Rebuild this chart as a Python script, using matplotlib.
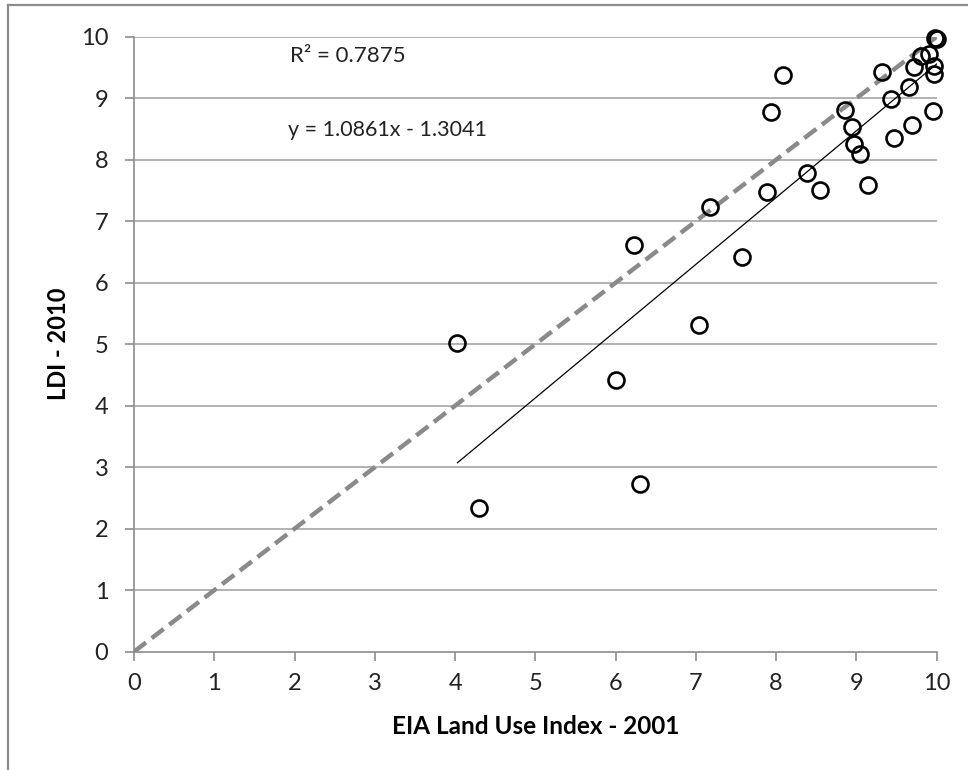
import matplotlib
matplotlib.use("Agg")
import matplotlib.pyplot as plt
from matplotlib.lines import Line2D

# EIA 2001 index vs LDI 2010, one pair per site
eia_2001 = [4.03, 4.30, 6.00, 6.23, 6.30, 7.04, 7.17, 7.57, 7.89, 7.94,
            8.08, 8.38, 8.55, 8.86, 8.94, 8.97, 9.05, 9.14, 9.32, 9.43,
            9.47, 9.65, 9.69, 9.72, 9.81, 9.90, 9.96, 9.97, 9.97, 9.98, 10.0]
ldi_2010 = [5.02, 2.33, 4.42, 6.61, 2.72, 5.32, 7.23, 6.42, 7.47, 8.77,
            9.37, 7.78, 7.51, 8.81, 8.53, 8.25, 8.09, 7.59, 9.42, 8.98,
            8.36, 9.18, 8.57, 9.51, 9.68, 9.72, 8.79, 9.52, 9.40, 9.98, 9.97]

SLOPE = 1.0861
INTERCEPT = -1.3041
R2 = 0.7875

TICKS = list(range(0, 11))

FONT = ["Lato", "DejaVu Sans"]
plt.rcParams["font.family"] = FONT

fig = plt.figure(figsize=(9.68, 7.70), dpi=100)
ax = fig.add_axes([134 / 968, 1 - 651.7 / 770, (936.7 - 134) / 968, (651.7 - 36.7) / 770])

grid_col = "#a6a6a6"
for t in TICKS[1:]:
    ax.axhline(t, color=grid_col, lw=1.2, zorder=0)

# 1:1 reference line
ax.plot([0, 10], [0, 10], color="#8a8a8a", lw=3.2, dashes=(3.4, 1.6),
        solid_capstyle="butt", zorder=1)

# fitted trendline over the range of the data
x0, x1 = min(eia_2001), max(eia_2001)
ax.plot([x0, x1], [SLOPE * x0 + INTERCEPT, SLOPE * x1 + INTERCEPT],
        color="black", lw=0.9, zorder=2)

ax.plot(eia_2001, ldi_2010, "o", ms=11.5, mfc="none", mec="black", mew=1.9,
        clip_on=False, zorder=3)

ax.set_xlim(0, 10)
ax.set_ylim(0, 10)
ax.set_xticks(TICKS)
ax.set_yticks(TICKS)
for side in ["top", "right"]:
    ax.spines[side].set_visible(False)
for side in ["left", "bottom"]:
    ax.spines[side].set_color("#8c8c8c")
    ax.spines[side].set_linewidth(1.2)
ax.tick_params(axis="both", direction="out", length=6.5, width=1.2,
               color="#8c8c8c", labelsize=17, labelcolor="#222222")
ax.tick_params(axis="x", pad=9)
ax.tick_params(axis="y", pad=12)

ax.text(1.94, 9.68, f"R\u00b2 = {R2}", fontsize=16, color="#222222", va="center")
ax.text(1.92, 8.49, f"y = {SLOPE}x - {abs(INTERCEPT)}", fontsize=15.5,
        color="#222222", va="center")

ax.set_xlabel("EIA Land Use Index - 2001", fontsize=17.5, fontweight="bold")
ax.set_ylabel("LDI - 2010", fontsize=17, fontweight="bold")
ax.xaxis.label.set_va("center")
ax.yaxis.label.set_va("center")
ax.xaxis.set_label_coords(0.5, (651.7 - 727) / 615)
ax.yaxis.set_label_coords((58 - 134) / 802.7, 0.5)

# outer frame on the left and top edges
fig.add_artist(Line2D([8 / 968, 8 / 968], [0, 1 - 5 / 770], color="#8c8c8c", lw=1.6))
fig.add_artist(Line2D([8 / 968, 1], [1 - 5 / 770, 1 - 5 / 770], color="#8c8c8c", lw=1.6))

fig.savefig("out.png", dpi=100)
